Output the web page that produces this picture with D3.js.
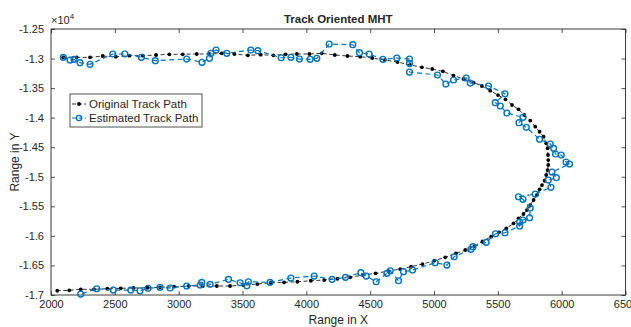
<!DOCTYPE html>
<html>
<head>
<meta charset="utf-8">
<script src="https://cdn.jsdelivr.net/npm/d3@7"></script>
<style>
  body { margin: 0; background: #fff; }
  svg text { font-family: "Liberation Sans", Arial, sans-serif; fill: #262626; }
</style>
</head>
<body>
<svg id="chart" width="631" height="327"></svg>
<script>
// original track (x, y)
const origX = [2096, 2201, 2306, 2405, 2507, 2614, 2719, 2823, 2927, 3032, 3142, 3241, 3338, 3437, 3542, 3643, 3742, 3836, 3926, 4024,
  4121, 4223, 4322, 4422, 4516, 4615, 4714, 4813, 4905, 4986, 5070, 5153, 5231, 5310, 5375, 5440, 5501, 5560, 5611, 5662,
  5707, 5754, 5793, 5827, 5858, 5879, 5890, 5893, 5895, 5895, 5890, 5879, 5866, 5846, 5827, 5806, 5780, 5754, 5728, 5701,
  5662, 5623, 5566, 5509, 5448, 5380, 5317, 5245, 5172, 5088, 5002, 4910, 4821, 4735, 4643, 4542, 4443, 4343, 4244, 4140,
  4035, 3930, 3826, 3722, 3617, 3507, 3403, 3299, 3189, 3079, 2964, 2854, 2755, 2645, 2546, 2441, 2337, 2233, 2143, 2049]
const origY = [-12980, -12980, -12980, -12957, -12969, -12952, -12952, -12940, -12928, -12928, -12923, -12923, -12911, -12923, -12945, -12935, -12945, -12928, -12923, -12923,
  -12911, -12940, -12957, -12969, -12991, -13025, -13058, -13109, -13148, -13177, -13216, -13290, -13346, -13408, -13464, -13544, -13617, -13689, -13786, -13859,
  -13955, -14050, -14153, -14238, -14323, -14434, -14519, -14632, -14717, -14801, -14886, -14970, -15067, -15140, -15213, -15309, -15393, -15478, -15563, -15630,
  -15703, -15788, -15873, -15940, -16014, -16092, -16172, -16239, -16295, -16363, -16420, -16476, -16522, -16561, -16595, -16634, -16662, -16701, -16725, -16747,
  -16759, -16776, -16786, -16793, -16815, -16832, -16848, -16848, -16848, -16848, -16860, -16870, -16877, -16882, -16887, -16894, -16904, -16904, -16921, -16928]

// estimated track (x, y)
const estX = [2096, 2149, 2180, 2227, 2306, 2484, 2578, 2708, 2817, 3063, 3183, 3241, 3252, 3293, 3377, 3565, 3620, 3803, 3879, 3946,
  4030, 4082, 4179, 4364, 4416, 4492, 4600, 4709, 4808, 4808, 4808, 5027, 5093, 5153, 5252, 5284, 5427, 5556, 5480, 5519,
  5571, 5697, 5666, 5723, 5827, 5911, 5937, 5952, 5997, 6034, 6062, 5924, 5958, 5895, 5916, 5793, 5662, 5697, 5754, 5749,
  5697, 5671, 5671, 5556, 5482, 5409, 5305, 5289, 5158, 5101, 5009, 4832, 4761, 4722, 4657, 4631, 4547, 4469, 4427, 4307,
  4202, 4061, 3879, 3716, 3546, 3534, 3481, 3390, 3246, 3181, 3168, 3063, 2933, 2854, 2760, 2697, 2625, 2488, 2358, 2233]
const estY = [-12980, -13025, -13013, -13070, -13097, -12923, -12923, -12979, -13036, -13008, -13063, -12996, -12911, -12855, -12911, -12855, -12867, -12986, -12979, -13008,
  -13013, -12996, -12754, -12766, -12901, -12923, -13013, -12991, -13008, -13080, -13228, -13278, -13431, -13363, -13329, -13414, -13464, -13595, -13747, -13803,
  -13921, -13994, -14085, -14163, -14366, -14446, -14519, -14615, -14632, -14750, -14784, -14920, -15016, -15055, -15178, -15292, -15338, -15381, -15529, -15693,
  -15732, -15766, -15833, -15947, -15964, -16109, -16183, -16227, -16353, -16493, -16454, -16578, -16606, -16759, -16590, -16634, -16776, -16680, -16623, -16701,
  -16735, -16679, -16713, -16786, -16776, -16844, -16793, -16735, -16820, -16786, -16831, -16848, -16882, -16870, -16887, -16928, -16916, -16916, -16894, -16984]

const xTicks = [2000, 2500, 3000, 3500, 4000, 4500, 5000, 5500, 6000, 6500]
const yTicks = [-12500, -13000, -13500, -14000, -14500, -15000, -15500, -16000, -16500, -17000]
const seriesNames = ['Original Track Path', 'Estimated Track Path']

const W = 631, H = 327
const m = { left: 51, right: 5.5, top: 29, bottom: 32 }
const iw = W - m.left - m.right, ih = H - m.top - m.bottom
const blue = '#0072BD', axisCol = '#262626'

const svg = d3.select('#chart')
const g = svg.append('g').attr('transform', `translate(${m.left},${m.top})`)

const x = d3.scaleLinear().domain([2000, 6500]).range([0, iw])
const y = d3.scaleLinear().domain([-17000, -12500]).range([ih, 0])

const fmtY = v => String(+(v / 1e4).toFixed(2))

function styleAxis(sel) {
  sel.select('.domain').remove()
  sel.selectAll('.tick line').attr('stroke', axisCol).attr('stroke-width', 0.8)
  sel.selectAll('.tick text').attr('font-size', 11).attr('fill', axisCol)
    .style('font-family', '"Liberation Sans", Arial, sans-serif')
}

g.append('g').attr('transform', `translate(0,${ih})`)
  .call(d3.axisBottom(x).tickValues(xTicks).tickSize(-4).tickPadding(5).tickFormat(d3.format('d')))
  .call(styleAxis)
g.append('g')
  .call(d3.axisTop(x).tickValues(xTicks).tickSize(-4).tickFormat(''))
  .call(styleAxis)
g.append('g')
  .call(d3.axisLeft(y).tickValues(yTicks).tickSize(-4).tickPadding(7).tickFormat(fmtY))
  .call(styleAxis)
g.append('g').attr('transform', `translate(${iw},0)`)
  .call(d3.axisRight(y).tickValues(yTicks).tickSize(-4).tickFormat(''))
  .call(styleAxis)

g.append('rect').attr('width', iw).attr('height', ih)
  .attr('fill', 'none').attr('stroke', axisCol).attr('stroke-width', 0.9)

const line = d3.line().x(d => x(d[0])).y(d => y(d[1]))
const orig = origX.map((v, i) => [v, origY[i]])
const est = estX.map((v, i) => [v, estY[i]])

g.append('path').datum(orig).attr('d', line)
  .attr('fill', 'none').attr('stroke', '#000').attr('stroke-width', 0.8).attr('stroke-dasharray', '4,2.5')
g.selectAll('.om').data(orig).join('circle').attr('class', 'om')
  .attr('cx', d => x(d[0])).attr('cy', d => y(d[1])).attr('r', 1.9).attr('fill', '#000')

g.append('path').datum(est).attr('d', line)
  .attr('fill', 'none').attr('stroke', blue).attr('stroke-width', 1.2).attr('stroke-dasharray', '5,3.5')
g.selectAll('.em').data(est).join('circle').attr('class', 'em')
  .attr('cx', d => x(d[0])).attr('cy', d => y(d[1])).attr('r', 2.9)
  .attr('fill', 'none').attr('stroke', blue).attr('stroke-width', 1.4)

// exponent label
const ex = svg.append('text').attr('x', m.left).attr('y', 24).attr('font-size', 11).attr('fill', '#777')
ex.append('tspan').text('×10')
ex.append('tspan').attr('dy', -5).attr('font-size', 8).text('4')

// title & labels
svg.append('text').attr('x', m.left + iw / 2).attr('y', 23).attr('text-anchor', 'middle')
  .attr('font-size', 11.5).attr('font-weight', 'bold').attr('fill', '#000').text('Track Oriented MHT')
svg.append('text').attr('x', m.left + iw / 2).attr('y', 323.5).attr('text-anchor', 'middle')
  .attr('font-size', 12).text('Range in X')
svg.append('text').attr('transform', `translate(19,${m.top + ih / 2}) rotate(-90)`).attr('text-anchor', 'middle')
  .attr('font-size', 12).text('Range in Y')

// legend
const lg = svg.append('g').attr('transform', 'translate(70,94)')
lg.append('rect').attr('width', 132).attr('height', 33).attr('fill', '#fff')
  .attr('stroke', axisCol).attr('stroke-width', 0.8)
seriesNames.forEach((name, i) => {
  const yy = 10 + i * 14
  const col = i === 0 ? '#000' : blue
  lg.append('line').attr('x1', 2).attr('x2', 16).attr('y1', yy).attr('y2', yy)
    .attr('stroke', col).attr('stroke-width', i === 0 ? 0.8 : 1.2).attr('stroke-dasharray', i === 0 ? '4,2' : '4,2.5')
  if (i === 0) lg.append('circle').attr('cx', 9).attr('cy', yy).attr('r', 1.9).attr('fill', '#000')
  else lg.append('circle').attr('cx', 9).attr('cy', yy).attr('r', 2.6).attr('fill', 'none').attr('stroke', blue).attr('stroke-width', 1.3)
  lg.append('text').attr('x', 19).attr('y', yy + 4).attr('font-size', 11.5).attr('fill', '#000').text(name)
})
</script>
</body>
</html>
